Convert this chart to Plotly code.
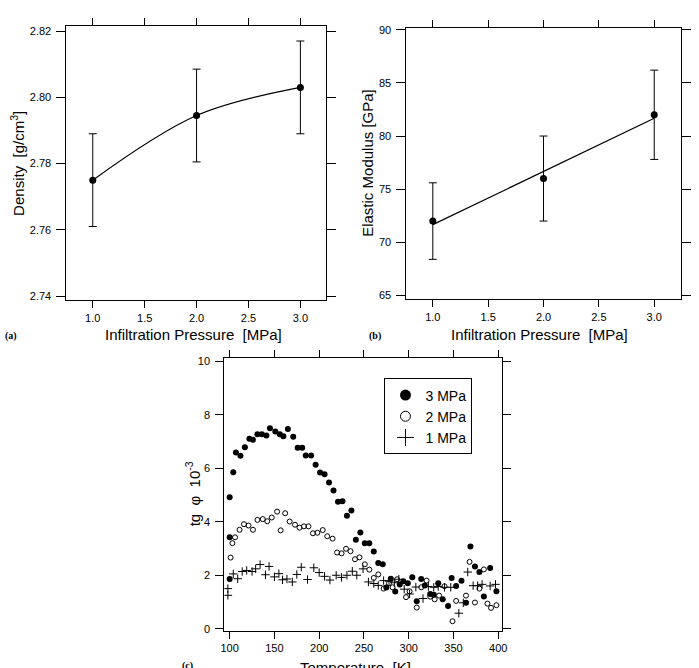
import numpy as np
import plotly.graph_objects as go

# ---------------- data ----------------
pressure = [1.0, 2.0, 3.0]
density = [2.775, 2.7945, 2.803]
density_err = [0.014, 0.014, 0.014]
modulus = [72.0, 76.0, 82.0]
modulus_err = [3.6, 4.0, 4.2]

T3 = [100,100,100,104,107,112,117,122,126,131,136,141,145,151,156,160,165,171,176,181,
      185,191,196,201,206,211,216,221,226,231,236,241,246,251,256,261,266,271,275,280,
      285,290,294,299,304,309,314,318,324,328,333,338,344,348,353,359,364,369,374,379,
      384,391,398]
V3 = [1.86,3.42,4.92,5.85,6.59,6.47,6.79,7.11,7.07,7.27,7.27,7.23,7.50,7.38,7.27,7.20,7.47,7.18,6.77,6.77,
      6.48,6.48,6.13,5.84,5.78,5.47,5.17,4.75,4.77,4.23,4.42,3.33,3.60,3.20,3.20,2.89,2.46,2.41,1.54,1.87,
      1.39,1.65,1.78,1.70,1.93,1.03,1.86,1.62,1.30,1.27,1.70,1.10,0.85,1.90,1.60,1.79,0.97,3.08,2.33,2.12,
      1.21,2.27,1.40]

T2 = [101,103,106,111,116,121,126,131,137,142,147,153,157,162,167,173,178,183,188,193,
      198,204,209,215,220,225,230,235,240,245,251,256,261,266,272,278,282,287,297,301,
      309,314,320,324,329,334,340,349,353,364,368,374,379,384,388,392,398]
V2 = [2.66,3.20,3.42,3.70,3.91,3.86,3.70,4.07,4.10,4.02,4.16,4.38,3.68,4.32,4.01,3.89,3.78,3.83,3.83,3.57,
      3.59,3.69,3.46,3.37,2.85,2.82,2.99,2.90,2.60,2.67,2.41,2.21,1.90,2.03,1.50,1.70,1.55,1.85,1.18,1.40,
      0.79,1.55,1.80,1.20,1.10,1.24,1.59,0.28,1.04,1.24,2.50,0.98,1.50,2.22,0.94,0.78,0.88]

T1 = [98,98,104,109,114,119,125,129,134,140,144,150,155,159,164,170,175,180,187,194,
      200,206,212,219,225,231,237,242,249,255,261,266,272,278,284,289,295,301,308,316,
      322,328,333,340,347,356,361,366,372,377,382,391,397]
V1 = [1.50,1.25,2.05,1.87,2.14,2.18,2.14,2.24,2.40,2.02,2.33,1.94,2.06,1.83,1.86,1.75,2.03,2.30,1.84,2.28,
      2.10,1.96,1.82,2.00,1.92,2.00,2.15,2.00,2.24,1.75,1.69,1.62,1.80,1.78,1.72,1.85,1.48,1.30,1.56,1.13,
      1.58,1.55,1.58,1.55,1.55,0.58,0.97,2.12,1.61,1.61,1.66,1.60,1.66]

series_names = ["3 MPa", "2 MPa", "1 MPa"]

FONT = "Liberation Sans, Arial, sans-serif"
W, H = 699, 668

fig = go.Figure()

# ---- panel (a) ----
fig.add_trace(go.Scatter(x=pressure, y=density, mode="lines", line=dict(color="black", width=1.2, shape="spline"),
                         xaxis="x", yaxis="y", showlegend=False, hoverinfo="skip"))
fig.add_trace(go.Scatter(x=pressure, y=density, mode="markers",
                         marker=dict(color="black", size=7),
                         error_y=dict(type="data", array=density_err, color="black", thickness=1, width=4),
                         xaxis="x", yaxis="y", showlegend=False))

# ---- panel (b) ----
coef = np.polyfit(pressure, modulus, 1)
fit_x = [pressure[0], pressure[-1]]
fit_y = list(np.polyval(coef, fit_x))
fig.add_trace(go.Scatter(x=fit_x, y=fit_y, mode="lines", line=dict(color="black", width=1.2),
                         xaxis="x2", yaxis="y2", showlegend=False, hoverinfo="skip"))
fig.add_trace(go.Scatter(x=pressure, y=modulus, mode="markers",
                         marker=dict(color="black", size=7),
                         error_y=dict(type="data", array=modulus_err, color="black", thickness=1, width=4),
                         xaxis="x2", yaxis="y2", showlegend=False))

# ---- panel (c) ----
fig.add_trace(go.Scatter(x=T1, y=V1, mode="markers",
                         marker=dict(symbol="cross-thin", size=6, line=dict(color="black", width=1)),
                         xaxis="x3", yaxis="y3", showlegend=False))
fig.add_trace(go.Scatter(x=T2, y=V2, mode="markers",
                         marker=dict(symbol="circle-open", size=5, color="black", line=dict(color="black", width=1)),
                         xaxis="x3", yaxis="y3", showlegend=False))
fig.add_trace(go.Scatter(x=T3, y=V3, mode="markers",
                         marker=dict(symbol="circle", size=6, color="black"),
                         xaxis="x3", yaxis="y3", showlegend=False))

# legend entries (bigger symbols, as in the reference)
fig.add_trace(go.Scatter(x=[None], y=[None], mode="markers", name=series_names[0],
                         marker=dict(symbol="circle", size=11, color="black"), xaxis="x3", yaxis="y3"))
fig.add_trace(go.Scatter(x=[None], y=[None], mode="markers", name=series_names[1],
                         marker=dict(symbol="circle-open", size=10, color="black", line=dict(width=1)), xaxis="x3", yaxis="y3"))
fig.add_trace(go.Scatter(x=[None], y=[None], mode="markers", name=series_names[2],
                         marker=dict(symbol="cross-thin", size=12, line=dict(color="black", width=1)), xaxis="x3", yaxis="y3"))


def ax(**kw):
    d = dict(showline=True, linecolor="black", linewidth=1, mirror="ticks", ticks="outside",
             tickcolor="black", tickwidth=1, showgrid=False, zeroline=False,
             tickfont=dict(size=11, family=FONT, color="black"))
    d.update(kw)
    return d


def px(x0, x1):
    return [x0 / W, x1 / W]


def py(top, bottom):
    return [1 - bottom / H, 1 - top / H]


fig.update_layout(
    width=W, height=H,
    margin=dict(l=0, r=0, t=0, b=0),
    paper_bgcolor="white", plot_bgcolor="white",
    font=dict(family=FONT, color="black"),
    xaxis=ax(domain=px(63.3, 326.7), range=[0.746, 3.247], tickvals=[1.0, 1.5, 2.0, 2.5, 3.0],
             tickformat=".1f", ticklen=7, anchor="y"),
    yaxis=ax(domain=py(22.7, 300), range=[2.7387, 2.8214], tickvals=[2.74, 2.76, 2.78, 2.80, 2.82],
             tickformat=".2f", ticklen=9, ticklabelstandoff=3, anchor="x"),
    xaxis2=ax(domain=px(408.3, 687.3), range=[0.762, 3.246], tickvals=[1.0, 1.5, 2.0, 2.5, 3.0],
              tickformat=".1f", ticklen=7, anchor="y2"),
    yaxis2=ax(domain=py(24, 299), range=[64.63, 90.19], tickvals=[65, 70, 75, 80, 85, 90],
              ticklen=9, ticklabelstandoff=3, anchor="x2"),
    xaxis3=ax(domain=px(223.5, 505), range=[94, 404], tickvals=[100, 150, 200, 250, 300, 350, 400],
              ticklen=7, anchor="y3"),
    yaxis3=ax(domain=py(358.3, 634.3), range=[-0.074, 10.126], tickvals=[0, 2, 4, 6, 8, 10],
              ticklen=8, ticklabelstandoff=3, anchor="x3"),
    legend=dict(x=386 / W, y=1 - 379 / H, xanchor="left", yanchor="top",
                bgcolor="white", bordercolor="black", borderwidth=1,
                font=dict(size=14, family=FONT, color="black"), tracegroupgap=0),
)

ann = []


def add_text(text, x, y, size=15, angle=0, family=FONT, xanchor="center"):
    ann.append(dict(text=text, x=x / W, y=1 - y / H, xref="paper", yref="paper", showarrow=False,
                    textangle=angle, font=dict(size=size, family=family, color="black"),
                    xanchor=xanchor, yanchor="middle"))


add_text("Infiltration Pressure  [MPa]", 192, 335)
add_text("Infiltration Pressure  [MPa]", 543, 335)
add_text("Temperature  [K]", 357, 672)
add_text("Density  [g/cm<sup>3</sup>]", 13, 161, angle=-90)
add_text("Elastic Modulus [GPa]", 368, 161, angle=-90)
add_text("tg  φ  10<sup>-3</sup>", 191, 496, angle=-90)
add_text("<b>(a)</b>", 7, 336, size=10, family="Liberation Serif, serif")
add_text("<b>(b)</b>", 376, 336, size=10, family="Liberation Serif, serif")
add_text("<b>(c)</b>", 186, 670, size=10, family="Liberation Serif, serif")
fig.update_layout(annotations=ann)

fig.write_html("out.html")
